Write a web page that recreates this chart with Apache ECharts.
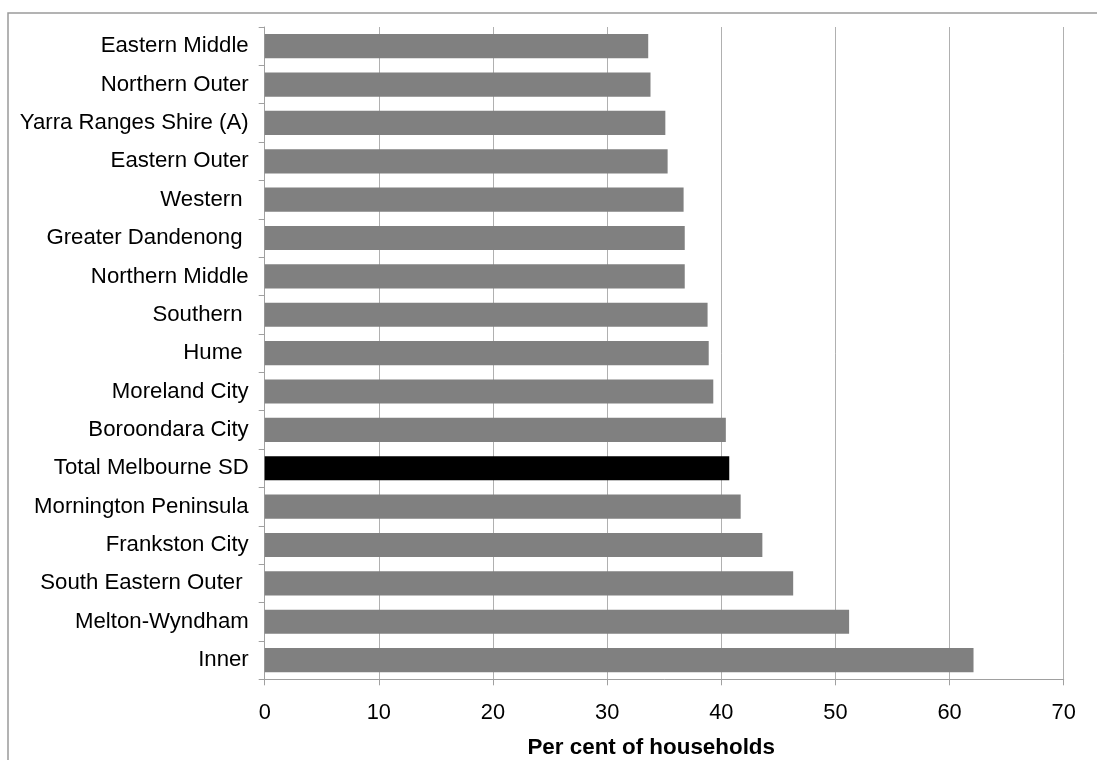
<!DOCTYPE html>
<html>
<head>
<meta charset="utf-8">
<script src="https://cdn.jsdelivr.net/npm/echarts@6/dist/echarts.min.js"></script>
<style>
html,body{margin:0;padding:0;background:#fff;}
#chart{width:1097px;height:760px;}
</style>
</head>
<body>
<div id="chart"></div>
<script>
const categories = [
  "Eastern Middle",
  "Northern Outer",
  "Yarra Ranges Shire (A)",
  "Eastern Outer",
  "Western ",
  "Greater Dandenong ",
  "Northern Middle",
  "Southern ",
  "Hume ",
  "Moreland City",
  "Boroondara City",
  "Total Melbourne SD",
  "Mornington Peninsula",
  "Frankston City",
  "South Eastern Outer ",
  "Melton-Wyndham",
  "Inner"
];
const values = [33.6, 33.8, 35.1, 35.3, 36.7, 36.8, 36.8, 38.8, 38.9, 39.3, 40.4, 40.7, 41.7, 43.6, 46.3, 51.2, 62.1];
const highlightCategory = "Total Melbourne SD";
const xTicks = { min: 0, max: 70, interval: 10 };
const axisTitle = "Per cent of households";

const FONT = "'Liberation Sans', Arial, sans-serif";
const chart = echarts.init(document.getElementById('chart'), null, { renderer: 'canvas' });

chart.setOption({
  animation: false,
  backgroundColor: '#ffffff',
  graphic: [{
    type: 'rect',
    shape: { x: 8, y: 13, width: 1200, height: 900 },
    style: { fill: 'none', stroke: '#9a9a9a', lineWidth: 1.5 },
    silent: true
  }],
  grid: { left: 264.7, right: 33.3, top: 27, bottom: 80.7, containLabel: false, outerBoundsMode: 'none' },
  xAxis: {
    type: 'value',
    min: xTicks.min,
    max: xTicks.max,
    interval: xTicks.interval,
    name: axisTitle,
    nameLocation: 'middle',
    nameGap: 58,
    nameTextStyle: { fontFamily: FONT, fontSize: 22.4, fontWeight: 'bold', color: '#000', padding: [0, 26, 0, 0] },
    axisLine: { show: true, lineStyle: { color: '#a0a0a0', width: 1 } },
    axisTick: { show: true, length: 6, lineStyle: { color: '#a0a0a0' } },
    axisLabel: { fontFamily: FONT, fontSize: 21.8, color: '#000', margin: 23 },
    splitLine: { show: true, lineStyle: { color: '#b0b0b0', width: 1 } }
  },
  yAxis: {
    type: 'category',
    data: categories,
    inverse: true,
    axisLine: { show: true, lineStyle: { color: '#a0a0a0', width: 1 } },
    axisTick: { show: true, length: 6, lineStyle: { color: '#a0a0a0' } },
    axisLabel: { fontFamily: FONT, fontSize: 22.2, color: '#000', margin: 16 },
    splitLine: { show: false }
  },
  series: [{
    type: 'bar',
    data: values.map((v, i) => ({
      value: v,
      itemStyle: { color: categories[i] === highlightCategory ? '#000000' : '#808080' }
    })),
    barCategoryGap: '37%',
    silent: true
  }]
});
</script>
</body>
</html>
